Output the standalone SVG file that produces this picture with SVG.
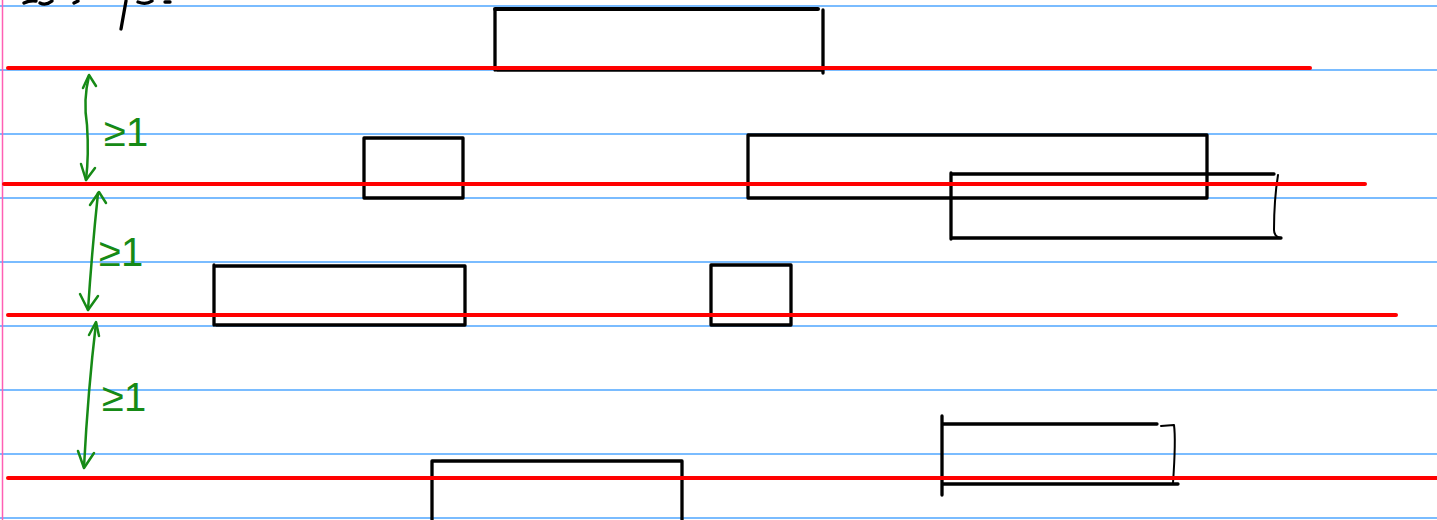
<svg xmlns="http://www.w3.org/2000/svg" width="1437" height="520" viewBox="0 0 1437 520">
<defs>
<style>
.rule{stroke:#4ea6ff;stroke-width:1.3}
.margin{stroke:#ff5fb4;stroke-width:1.5}
.red{stroke:#ff0000;stroke-width:4;stroke-linecap:round}
.ink{fill:none;stroke:#000;stroke-width:3.3;stroke-linecap:round;stroke-linejoin:round}
.thin{fill:none;stroke:#000;stroke-width:2;stroke-linecap:round;stroke-linejoin:round}
.grn{fill:none;stroke:#168a16;stroke-width:2.5;stroke-linecap:round;stroke-linejoin:round}
.lbl{fill:#168a16;font-family:"Liberation Sans",Arial,sans-serif;font-size:40px}
</style>
</defs>
<rect width="1437" height="520" fill="#fff"/>
<g id="paper">
<line class="rule" x1="0" y1="6" x2="1437" y2="6"/>
<line class="rule" x1="0" y1="70" x2="1437" y2="70"/>
<line class="rule" x1="0" y1="134" x2="1437" y2="134"/>
<line class="rule" x1="0" y1="198" x2="1437" y2="198"/>
<line class="rule" x1="0" y1="262" x2="1437" y2="262"/>
<line class="rule" x1="0" y1="326" x2="1437" y2="326"/>
<line class="rule" x1="0" y1="390" x2="1437" y2="390"/>
<line class="rule" x1="0" y1="454" x2="1437" y2="454"/>
<line class="rule" x1="0" y1="518" x2="1437" y2="518"/>
<line class="margin" x1="2.5" y1="0" x2="2.5" y2="520"/>
</g>
<g id="heading-ink">
<path class="ink" d="M24 3 Q30 0 36 1 M40 3 Q46 6 52 1 M74 3 L78 1" />
<path class="ink" d="M126 1 L121 29"/>
<path class="ink" d="M138 2 Q146 5 152 1 M165 2 L170 2"/>
</g>
<g id="boxes">
<g id="box1"><path class="ink" d="M495 10 L495 70 M823 10 L823 73 M497 70 L823 70"/><line x1="495" y1="9" x2="818" y2="9" stroke="#000" stroke-width="4" stroke-linecap="round"/></g>
<g id="box2"><rect class="ink" x="364" y="138" width="99" height="60"/></g>
<g id="box3"><rect class="ink" x="748" y="135" width="459" height="63"/></g>
<g id="box4"><path class="ink" d="M951 174 L1274 174 M951 173 L951 239 M951 238 L1281 238"/><path class="thin" d="M1278 175 Q1274 200 1274 230 Q1274 236 1280 238"/></g>
<g id="box5"><path class="ink" d="M214 265 L214 325 M216 266 L465 266 L465 325 L216 325"/></g>
<g id="box6"><rect class="ink" x="711" y="265" width="80" height="60"/></g>
<g id="box7"><path class="ink" d="M432 522 L432 461 L682 461 L682 522"/></g>
<g id="box8"><path class="ink" d="M942 416 L942 495 M942 424 L1157 424 M942 484 L1178 484"/><path class="thin" d="M1161 426 L1174 425 Q1176 440 1173 483"/></g>
</g>
<g id="baselines">
<line class="red" x1="8" y1="68" x2="1310" y2="68"/>
<line class="red" x1="4" y1="184" x2="1365" y2="184"/>
<line class="red" x1="8" y1="315" x2="1396" y2="315"/>
<line class="red" x1="8" y1="478" x2="1437" y2="478"/>
</g>
<g id="connectors">
<path class="grn" d="M89 76 Q83 100 87 125 Q89 155 86 180"/>
<path class="grn" d="M83 88 L89 75 L96 86"/>
<path class="grn" d="M81 164 L86 180 L95 168"/>
<path class="grn" d="M98 193 Q92 250 88 310"/>
<path class="grn" d="M90 205 L99 192 L106 203"/>
<path class="grn" d="M80 294 L88 310 L98 296"/>
<path class="grn" d="M96 323 Q88 390 84 467"/>
<path class="grn" d="M89 335 L96 322 L99 336"/>
<path class="grn" d="M78 451 L84 468 L94 453"/>
</g>
<g id="labels">
<text class="lbl" x="104" y="146">≥1</text>
<text class="lbl" x="99" y="266">≥1</text>
<text class="lbl" x="102" y="411">≥1</text>
</g>
</svg>
